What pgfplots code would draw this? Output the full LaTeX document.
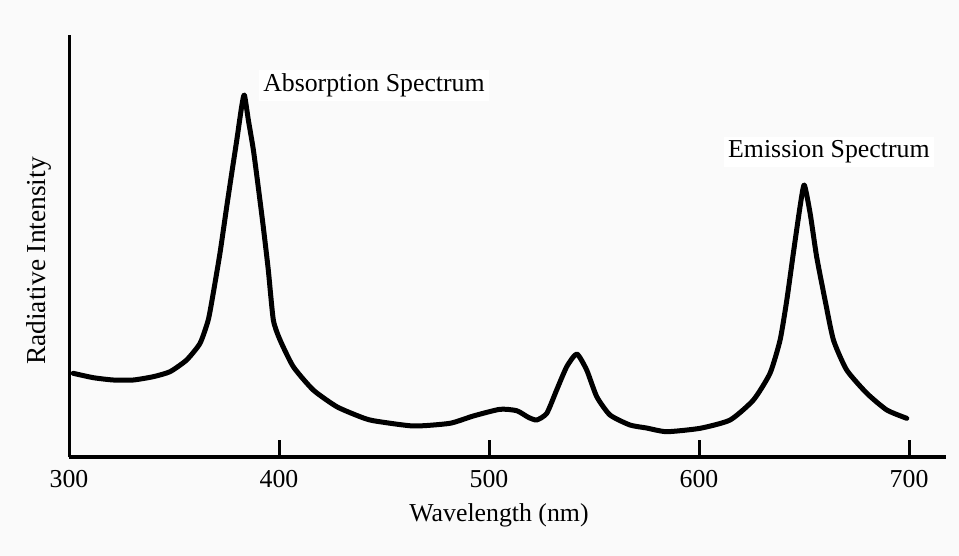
\documentclass[border=0pt]{standalone}
\usepackage{pgfplots}
\pgfplotsset{compat=1.18}
\usepackage{fontspec}
\setmainfont{Liberation Serif}
\definecolor{paper}{RGB}{250,250,250}
\newcommand{\lbl}{\fontsize{25.9}{30}\selectfont}

% Spectrum trace: wavelength (nm) vs. radiative intensity (arbitrary units)
\pgfplotstableread{
lambda  I
302.0   83.7
311.6   79.3
321.1   77.0
330.6   77.0
340.1   80.3
348.1   85.3
356.0   97.0
362.4  113.7
366.3  137.0
368.7  164.0
371.9  204.0
375.1  250.3
377.5  284.0
379.9  317.0
382.2  350.3
383.5  362.0
385.4  337.0
387.8  307.0
390.1  270.3
392.5  230.3
394.9  187.0
397.3  137.0
400.5  117.0
406.8   90.3
416.3   67.0
427.5   50.3
438.6   40.3
444.9   36.3
464.0   31.0
481.4   33.7
492.5   41.0
505.2   47.7
513.2   46.3
518.7   39.7
522.7   37.0
527.5   43.7
532.2   67.0
537.0   90.3
541.8  103.0
546.5   87.0
551.3   60.3
557.6   42.0
567.1   32.0
575.0   29.0
584.6   25.3
600.5   28.7
614.8   37.0
625.9   57.0
633.8   83.7
638.6  117.0
641.8  157.0
644.9  203.7
648.1  250.3
650.1  272.0
652.9  243.7
656.0  200.3
660.0  157.0
664.0  117.0
670.3   87.0
679.9   63.7
689.4   47.0
698.9   38.7
}\spectrum

\begin{document}
\begin{tikzpicture}
\path[use as bounding box] (0,0) rectangle (959bp,556bp);
\fill[paper] (0,0) rectangle (959bp,556bp);
\begin{axis}[
  at={(69bp,99bp)}, anchor=south west,
  scale only axis, width=877bp, height=422bp,
  xmin=300, xmax=717.6, ymin=0, ymax=422,
  axis x line*=bottom, axis y line*=left,
  axis line style={line width=3bp, black},
  xtick={300,400,500,600,700},
  xticklabels={300,400,500,600,700},
  ytick=\empty,
  tick align=inside, major tick length=17bp,
  every tick/.style={black, line width=3bp},
  xticklabel style={font=\lbl, anchor=north, inner sep=0pt, yshift=-13bp},
  xlabel={Wavelength (nm)},
  xlabel style={font=\lbl, at={(rel axis cs:0.4903,-0.1374)}, anchor=center},
  ylabel={Radiative Intensity},
  ylabel style={font=\fontsize{27.5}{32}\selectfont, at={(rel axis cs:-0.0342,0.4645)}, anchor=center},
  clip=false,
]
\addplot[black, line width=5bp, smooth, tension=0.35, line join=round, line cap=round] table[x=lambda, y=I] {\spectrum};
\node[font=\lbl, anchor=base west, fill=white, inner sep=4bp] at (axis cs:390.5,365) {Absorption Spectrum};
\node[font=\lbl, anchor=base west, fill=white, inner sep=4bp] at (axis cs:611.9,299) {Emission Spectrum};
\end{axis}
\end{tikzpicture}
\end{document}
